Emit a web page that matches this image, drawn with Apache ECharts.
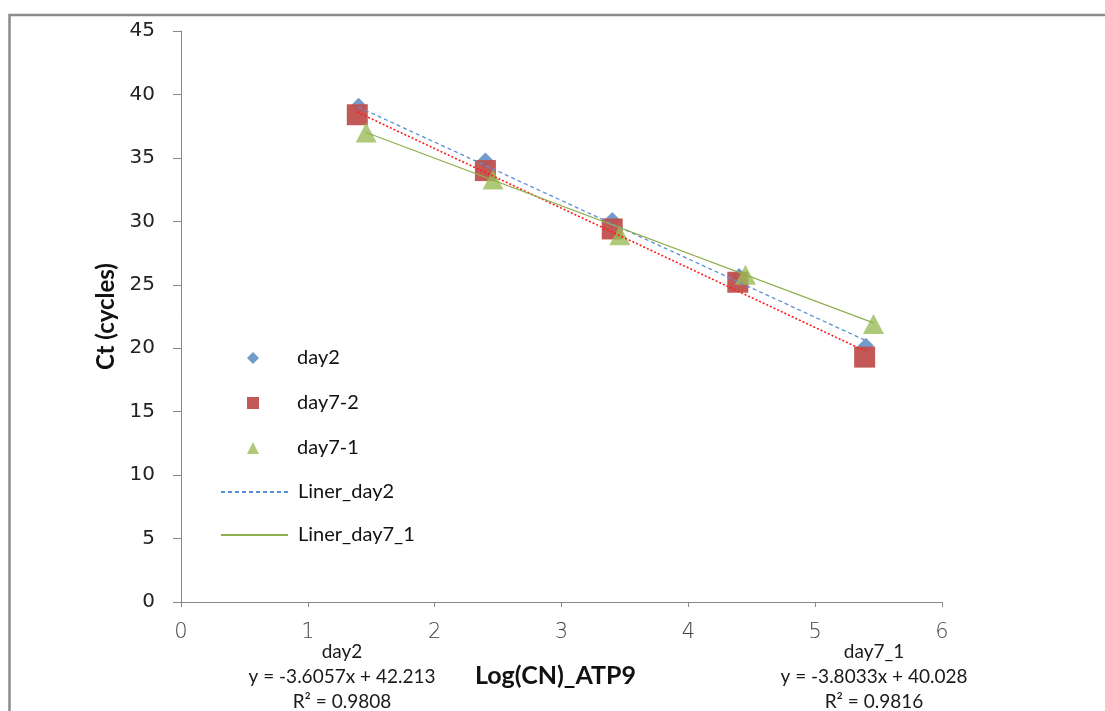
<!DOCTYPE html>
<html>
<head>
<meta charset="utf-8">
<script src="https://cdn.jsdelivr.net/npm/echarts@6/dist/echarts.min.js"></script>
<style>
  html, body { margin: 0; padding: 0; background: #ffffff; }
  #chart { width: 1105px; height: 711px; }
</style>
</head>
<body>
<div id="chart"></div>
<script>
// Standard curve: Ct vs log copy number (ATP9)
const xDay2 = [1.40, 2.40, 3.40, 4.40, 5.40];
const ctDay2 = [39.1, 34.8, 30.1, 25.7, 20.2];

const xDay7_2 = [1.39, 2.40, 3.40, 4.39, 5.39];
const ctDay7_2 = [38.4, 34.0, 29.4, 25.2, 19.3];

const xDay7_1 = [1.46, 2.46, 3.46, 4.45, 5.46];
const ctDay7_1 = [37.0, 33.3, 28.9, 25.8, 21.9];

// trendline end points
const trendDay2 = [[1.40, 39.0], [5.40, 20.6]];
const trendDay7_2 = [[1.39, 38.6], [5.39, 19.8]];
const trendDay7_1 = [[1.46, 37.0], [5.46, 22.0]];

const xTicks = [0, 1, 2, 3, 4, 5, 6];
const yTicks = [0, 5, 10, 15, 20, 25, 30, 35, 40, 45];

const markerNames = ['day2', 'day7-2', 'day7-1'];
const lineNames = ['Liner_day2', 'Liner_day7_1'];

const eqDay2 = ['day2', 'y = -3.6057x + 42.213', 'R\u00B2 = 0.9808'];
const eqDay7_1 = ['day7_1', 'y = -3.8033x + 40.028', 'R\u00B2 = 0.9816'];

function zip(xs, ys) { return xs.map((x, i) => [x, ys[i]]); }

const chart = echarts.init(document.getElementById('chart'), null, { renderer: 'canvas' });

const textFont = 'Lato';
const eqStyle = { fontFamily: textFont, fontSize: 19, fill: '#1a1a1a', align: 'center', verticalAlign: 'middle' };

function eqBlock(lines, cx) {
  const ys = [652, 677, 702];
  return lines.map((t, i) => ({
    type: 'text', x: cx, y: ys[i], silent: true,
    style: Object.assign({ text: t }, eqStyle)
  }));
}

const legendText = { fontFamily: textFont, fontSize: 20, color: '#111', lineHeight: 20 };

// line series keep a transparent item colour so their legend icon is only the stroke
const hiddenItem = { color: 'transparent', borderColor: 'transparent', borderWidth: 0 };

const option = {
  animation: false,
  backgroundColor: '#ffffff',
  grid: { left: 181, right: 163, top: 31, bottom: 109, containLabel: false },
  xAxis: {
    type: 'value', min: xTicks[0], max: xTicks[xTicks.length - 1], interval: 1,
    name: 'Log(CN)_ATP9', nameLocation: 'middle', nameGap: 61,
    nameTextStyle: { fontFamily: textFont, fontSize: 25, fontWeight: 'bold', color: '#111', padding: [0, 12, 0, 0] },
    axisLine: { show: true, onZero: false, lineStyle: { color: '#888', width: 1 } },
    axisTick: { show: true, inside: false, length: 5, lineStyle: { color: '#888' } },
    axisLabel: { margin: 20, fontFamily: 'DejaVu Sans', fontWeight: 200, fontSize: 21, color: '#444' },
    splitLine: { show: false }
  },
  yAxis: {
    type: 'value', min: yTicks[0], max: yTicks[yTicks.length - 1], interval: 5,
    name: 'Ct (cycles)', nameLocation: 'middle', nameGap: 63, nameRotate: 90,
    nameTextStyle: { fontFamily: textFont, fontSize: 24, fontWeight: 'bold', color: '#111' },
    axisLine: { show: true, onZero: false, lineStyle: { color: '#888', width: 1 } },
    axisTick: { show: true, inside: false, length: 8, lineStyle: { color: '#888' } },
    axisLabel: { margin: 26, fontFamily: 'DejaVu Sans', fontSize: 20, color: '#222' },
    splitLine: { show: false }
  },
  legend: [
    {
      data: markerNames,
      orient: 'vertical',
      left: 242, top: 343,
      itemWidth: 12, itemHeight: 12, itemGap: 25,
      selectedMode: false,
      textStyle: Object.assign({ padding: [0, 0, 0, 33] }, legendText)
    },
    {
      data: lineNames,
      orient: 'vertical',
      left: 215, top: 477,
      itemWidth: 67, itemHeight: 12, itemGap: 23,
      selectedMode: false,
      textStyle: Object.assign({ padding: [0, 0, 0, 5] }, legendText)
    }
  ],
  series: [
    {
      name: 'day2', type: 'scatter', symbol: 'diamond', symbolSize: 16,
      itemStyle: { color: '#4f81bd' },
      data: zip(xDay2, ctDay2)
    },
    {
      name: 'day7-2', type: 'scatter', symbol: 'rect', symbolSize: 21,
      itemStyle: { color: '#c0504d', opacity: 0.95 },
      data: zip(xDay7_2, ctDay7_2)
    },
    {
      name: 'day7-1', type: 'scatter', symbol: 'triangle', symbolSize: [21, 20],
      itemStyle: { color: '#9bbb59' },
      data: zip(xDay7_1, ctDay7_1)
    },
    {
      name: 'Liner_day2', type: 'line', symbol: 'none', silent: true,
      lineStyle: { color: '#5b8fd6', width: 1.3, type: [4, 3] },
      itemStyle: hiddenItem,
      data: trendDay2
    },
    {
      name: 'trend_day7_2', type: 'line', symbol: 'none', silent: true,
      lineStyle: { color: '#ff1a1a', width: 1.6, type: [2, 2] },
      itemStyle: hiddenItem,
      data: trendDay7_2
    },
    {
      name: 'Liner_day7_1', type: 'line', symbol: 'none', silent: true,
      lineStyle: { color: '#8fb04e', width: 1.3 },
      itemStyle: hiddenItem,
      data: trendDay7_1
    }
  ],
  graphic: [
    {
      type: 'rect', silent: true, z: -1,
      shape: { x: 9.5, y: 15, width: 1300, height: 900 },
      style: { fill: 'none', stroke: '#8c8c8c', lineWidth: 2.5 }
    }
  ].concat(eqBlock(eqDay2, 342), eqBlock(eqDay7_1, 874))
};

chart.setOption(option);
</script>
</body>
</html>
